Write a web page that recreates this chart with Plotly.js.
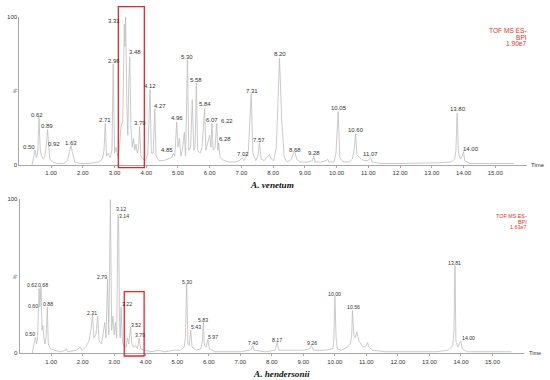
<!DOCTYPE html>
<html>
<head>
<meta charset="utf-8">
<script src="https://cdn.plot.ly/plotly-3.0.1.min.js"></script>
<style>html,body{margin:0;padding:0;background:#fff;}#chart{width:550px;height:380px;}</style>
</head>
<body>
<div id="chart"></div>
<script>
// ---------- DATA ----------
// A. venetum trace: retention time (min) and relative intensity (%)
var venTime = [0.40,0.46,0.50,0.54,0.58,0.62,0.66,0.70,0.75,0.80,0.86,0.89,0.92,0.96,1.05,1.20,1.40,1.52,1.58,1.63,1.68,1.75,1.90,2.20,2.50,2.62,2.67,2.71,2.75,2.80,2.86,2.92,2.96,3.00,3.05,3.10,3.15,3.20,3.26,3.31,3.33,3.35,3.39,3.42,3.45,3.48,3.52,3.56,3.60,3.64,3.68,3.72,3.76,3.79,3.83,3.90,3.98,4.05,4.12,4.16,4.22,4.27,4.31,4.40,4.55,4.70,4.80,4.85,4.90,4.96,5.00,5.05,5.09,5.14,5.20,5.24,5.30,5.34,5.40,5.45,5.50,5.54,5.58,5.62,5.70,5.76,5.84,5.88,5.94,6.00,6.04,6.07,6.11,6.17,6.22,6.26,6.28,6.33,6.45,6.60,6.80,6.95,7.02,7.08,7.16,7.22,7.31,7.36,7.45,7.52,7.57,7.62,7.72,7.80,7.88,7.94,8.02,8.10,8.20,8.27,8.35,8.45,8.58,8.64,8.68,8.74,8.85,9.10,9.24,9.28,9.32,9.50,9.68,9.72,9.76,9.92,9.98,10.05,10.10,10.20,10.40,10.50,10.56,10.60,10.64,10.72,10.85,10.98,11.03,11.07,11.12,11.40,12.00,12.60,13.20,13.60,13.72,13.76,13.80,13.84,13.90,13.96,14.00,14.04,14.20,14.60,15.00,15.60];
var venInt  = [0,6,10,5,8,32,10,6,4,5,15,24,12,4,2,1,1,3,9,13,8,2,1,1,2,4,10,28,6,8,5,10,68,8,12,6,10,25,30,95,80,100,40,20,55,73,25,12,18,10,14,8,12,26,6,4,3,8,51,8,8,38,6,3,3,4,5,8,6,29,12,18,6,10,22,6,71,10,12,44,10,12,55,10,8,12,38,10,16,20,12,28,10,12,28,10,15,5,3,2,2,3,5,3,6,10,48,8,3,6,15,4,3,5,7,4,3,12,72,30,5,2,4,8,9,4,2,2,3,6,2,2,3,4,2,2,8,36,5,2,2,4,12,21,7,5,3,3,4,5,2,1,1,1,1.5,2,4,10,35,8,4,6,9,3,1,1,1,1];

// A. hendersonii trace
var henTime = [0.40,0.46,0.50,0.54,0.57,0.60,0.62,0.64,0.66,0.68,0.71,0.74,0.76,0.80,0.84,0.88,0.91,0.98,1.10,1.30,1.45,1.48,1.52,1.80,1.92,1.98,2.10,2.20,2.27,2.31,2.36,2.42,2.48,2.52,2.60,2.66,2.70,2.74,2.79,2.83,2.88,2.92,2.96,3.00,3.04,3.08,3.12,3.14,3.17,3.19,3.22,3.26,3.30,3.38,3.42,3.46,3.52,3.56,3.62,3.68,3.74,3.79,3.84,3.95,4.20,4.40,4.60,4.90,5.10,5.22,5.26,5.30,5.34,5.38,5.43,5.47,5.55,5.60,5.75,5.80,5.83,5.86,5.92,5.97,6.02,6.20,6.60,7.00,7.30,7.36,7.40,7.44,7.80,8.10,8.17,8.22,8.40,8.60,9.00,9.20,9.26,9.32,9.70,9.94,9.97,10.00,10.04,10.08,10.20,10.40,10.48,10.53,10.56,10.60,10.64,10.70,10.76,10.90,11.00,11.04,11.08,11.20,11.60,12.00,12.60,13.20,13.60,13.74,13.78,13.81,13.84,13.90,13.96,14.00,14.04,14.20,15.00,15.60];
var henInt  = [0,7,10.6,6,10,29,42,30,35,43,15,18,12,6,10,30,6,3,2,1,2,3,1,2,4,2,4,8,16,25,10,12,24,8,6,14,20,10,48,12,100,15,24,12,20,10,90,87,20,10,30,8,5,4,10,6,17,6,4,5,3,10,3,2,1,2,1,2,2,4,10,45,6,5,15,4,3,2,3,8,20,5,4,9,3,1,1,1,2,3,5,2,1,2,7,2,2,2,2,3,5,2,2,3,10,37,10,3,2,4,6,10,28,12,10,14,8,4,5,7,4,2,1,1,1,1,2,5,15,57,8,4,7,8,3,1,1,1];

// Peak labels: text, label centre time (min), label centre level (%)
var venLabels = ["0.50","0.62","0.89","0.92","1.63","2.71","2.96","3.31","3.35","3.48","3.79","4.12","4.27","4.85","4.96","5.30","5.58","5.84","6.07","6.22","6.28","7.02","7.31","7.57","8.20","8.68","9.28","10.05","10.60","11.07","13.80","14.00"];
var venLabelTime = [0.32,0.57,0.86,1.09,1.62,2.70,2.97,2.97,3.36,3.65,3.79,4.12,4.44,4.67,4.97,5.30,5.57,5.85,6.07,6.53,6.47,7.05,7.33,7.56,8.20,8.70,9.30,10.06,10.62,11.08,13.82,14.25];
var venLabelLevel = [12.1,33.7,26.3,14.2,14.8,30.3,70.1,97.1,102.3,76.0,28.1,53.3,39.8,10.1,31.5,73.0,57.3,40.9,30.3,29.7,17.7,7.2,50.1,16.9,74.8,10.1,7.9,38.2,23.6,7.4,37.6,10.6];

var henLabels = ["0.50","0.60","0.62","0.68","0.88","2.31","2.79","2.88","3.12","3.14","3.22","3.52","3.79","5.30","5.43","5.83","5.97","7.40","8.17","9.26","10.00","10.56","13.81","14.00"];
var henLabelTime = [0.33,0.43,0.39,0.75,0.89,2.31,2.62,2.90,3.21,3.31,3.40,3.69,3.82,5.30,5.59,5.82,6.12,7.41,8.17,9.26,10.00,10.58,13.80,14.23];
var henLabelLevel = [12.5,30.9,44.4,44.4,32.0,26.4,49.4,101.7,93.7,89.4,31.8,18.6,11.7,46.5,16.9,21.6,10.4,6.9,8.6,6.5,38.5,29.9,58.8,9.7];

// Axis ticks
var timeTicks = [1,2,3,4,5,6,7,8,9,10,11,12,13,14,15];
var pctTicks = [0,100];

// Highlight windows (time in min)
var venBox = {t0:3.12, t1:3.94};
var henBox = {t0:3.32, t1:3.95};

// Instrument info
var venInfo = ["TOF MS ES-","BPI","1.90e7"];
var henInfo = ["TOF MS ES-","BPI","1.63e7"];
var species = ["A. venetum","A. hendersonii"];

// ---------- CHART ----------
var sans = "Liberation Sans, Arial, sans-serif";
var traceColor = "#bdbdbd";
var axisColor = "#a8a8a8";
var H = 380, W = 550;
function py(p){return 1 - p/H;}
function pxr(p){return p/W;}

var traces = [
  {x: venTime, y: venInt, type:"scatter", mode:"lines", line:{color:traceColor, width:0.8}, xaxis:"x", yaxis:"y", hoverinfo:"skip"},
  {x: henTime, y: henInt, type:"scatter", mode:"lines", line:{color:traceColor, width:0.8}, xaxis:"x2", yaxis:"y2", hoverinfo:"skip"}
];

var tickText = timeTicks.map(function(t){return t.toFixed(2);});
function xAxis(anchor, dom){
  return {domain: dom, range:[0,16], anchor: anchor, showgrid:false, zeroline:false,
    showline:true, linecolor:axisColor, linewidth:1, ticks:"outside", ticklen:2, tickcolor:axisColor,
    tickvals: timeTicks, ticktext: tickText, tickfont:{family:sans, size:6, color:"#333"}, fixedrange:true};
}
function yAxis(anchor, dom){
  return {domain: dom, range:[0,100], anchor: anchor, showgrid:false, zeroline:false,
    showline:true, linecolor:axisColor, linewidth:1, ticks:"", tickvals: pctTicks,
    ticktext: pctTicks.map(String), tickfont:{family:sans, size:6, color:"#333"}, fixedrange:true};
}

var annotations = [];
function addLabels(txt, tt, lv, xr, yr, size){
  for (var i=0;i<txt.length;i++){
    annotations.push({x:tt[i], y:lv[i], xref:xr, yref:yr, text:txt[i], showarrow:false,
      xanchor:"center", yanchor:"middle", font:{family:sans, size:size, color:"#333"}});
  }
}
addLabels(venLabels, venLabelTime, venLabelLevel, "x", "y", 6);
addLabels(henLabels, henLabelTime, henLabelLevel, "x2", "y2", 5.2);

function addInfo(lines, ytop, size, step){
  for (var i=0;i<lines.length;i++){
    annotations.push({x:pxr(528.5), y:py(ytop + i*step), xref:"paper", yref:"paper", text:lines[i],
      showarrow:false, xanchor:"right", yanchor:"middle", font:{family:sans, size:size, color:"#e0302a"}});
  }
}
addInfo(venInfo, 30.7, 6.6, 6.5);
addInfo(henInfo, 216, 5.4, 5.6);

// "%" axis labels
[[15,91],[15,277]].forEach(function(p){
  annotations.push({x:pxr(p[0]), y:py(p[1]), xref:"paper", yref:"paper", text:"%", textangle:-90, showarrow:false,
    xanchor:"center", yanchor:"middle", font:{family:sans, size:5, color:"#444"}});
});

annotations.push({x:pxr(529), y:py(165), xref:"paper", yref:"paper", text:"Time", showarrow:false,
  xanchor:"left", yanchor:"middle", font:{family:sans, size:6, color:"#333"}});
annotations.push({x:pxr(527), y:py(353.3), xref:"paper", yref:"paper", text:"Time", showarrow:false,
  xanchor:"left", yanchor:"middle", font:{family:sans, size:5.5, color:"#333"}});

annotations.push({x:pxr(271.5), y:py(185), xref:"paper", yref:"paper", text:"<b><i>"+species[0]+"</i></b>",
  showarrow:false, xanchor:"center", yanchor:"middle", font:{family:"Liberation Serif, Times New Roman, serif", size:9.2, color:"#111"}});
annotations.push({x:pxr(281), y:py(373.5), xref:"paper", yref:"paper", text:"<b><i>"+species[1]+"</i></b>",
  showarrow:false, xanchor:"center", yanchor:"middle", font:{family:"Liberation Serif, Times New Roman, serif", size:9.2, color:"#111"}});

var shapes = [
  {type:"rect", xref:"x", yref:"paper", x0:venBox.t0, x1:venBox.t1, y0:py(167.7), y1:py(6.7), line:{color:"#e3262b", width:1.3}},
  {type:"rect", xref:"x2", yref:"paper", x0:henBox.t0, x1:henBox.t1, y0:py(356), y1:py(291.7), line:{color:"#e3262b", width:1.3}}
];

var layout = {
  width: W, height: H, margin:{l:0,r:0,t:0,b:0}, showlegend:false,
  paper_bgcolor:"#fff", plot_bgcolor:"#fff",
  xaxis: xAxis("y", [pxr(19.3), pxr(527)]),
  yaxis: yAxis("x", [py(165), py(16.7)]),
  xaxis2: xAxis("y2", [pxr(19.6), pxr(524)]),
  yaxis2: yAxis("x2", [py(353.3), py(199.3)]),
  annotations: annotations, shapes: shapes
};

Plotly.newPlot("chart", traces, layout, {displayModeBar:false, staticPlot:true});
</script>
</body>
</html>
